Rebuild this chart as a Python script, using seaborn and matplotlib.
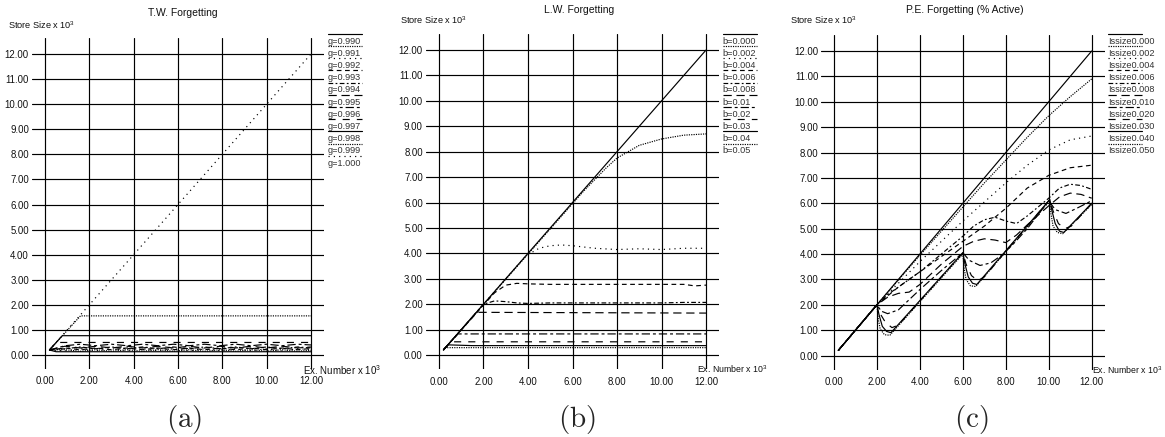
import numpy as np
import matplotlib
matplotlib.use("Agg")
import matplotlib.pyplot as plt
import seaborn as sns
from matplotlib.lines import Line2D
from matplotlib.legend_handler import HandlerLine2D

# ---------------- data ----------------
X_TICKS = [0, 2, 4, 6, 8, 10, 12]
Y_TICKS = [0, 1, 2, 3, 4, 5, 6, 7, 8, 9, 10, 11, 12]

TITLES = ["T.W. Forgetting", "L.W. Forgetting", "P.E. Forgetting (% Active)"]
TAGS = ["(a)", "(b)", "(c)"]
Y_LABEL = "Store Size x 10$^3$"
X_LABEL = "Ex. Number x 10$^3$"

TW_LABELS = ["g=0.990", "g=0.991", "g=0.992", "g=0.993", "g=0.994", "g=0.995",
             "g=0.996", "g=0.997", "g=0.998", "g=0.999", "g=1.000"]
LW_LABELS = ["b=0.000", "b=0.002", "b=0.004", "b=0.006", "b=0.008", "b=0.01",
             "b=0.02", "b=0.03", "b=0.04", "b=0.05"]
PE_LABELS = ["Issize0.000", "Issize0.002", "Issize0.004", "Issize0.006", "Issize0.008",
             "Issize0.010", "Issize0.020", "Issize0.030", "Issize0.040", "Issize0.050"]

X_ZZ = [0.2, 0.9, 1.6, 2.3, 3.0, 3.7, 4.4, 5.1, 5.8, 6.5, 7.2, 7.9, 8.6, 9.3, 10.0, 10.7, 11.4, 12.0]

TW_X = [
    [0.2, 0.5, 12.0],
    X_ZZ, X_ZZ, X_ZZ, X_ZZ, X_ZZ, X_ZZ,
    [0.2, 0.5, 12.0],
    [0.2, 0.78, 12.0],
    [0.2, 1.6, 12.0],
    [0.2, 12.0],
]
TW_Y = [
    [0.2, 0.13, 0.13],
    [0.2, 0.21, 0.15, 0.21, 0.15, 0.21, 0.15, 0.21, 0.15, 0.21, 0.15, 0.21, 0.15, 0.21, 0.15, 0.21, 0.15, 0.19],
    [0.2, 0.17, 0.25, 0.17, 0.25, 0.17, 0.25, 0.17, 0.25, 0.17, 0.25, 0.17, 0.25, 0.17, 0.25, 0.17, 0.25, 0.22],
    [0.2, 0.28, 0.21, 0.28, 0.21, 0.28, 0.21, 0.28, 0.21, 0.28, 0.21, 0.28, 0.21, 0.28, 0.21, 0.28, 0.21, 0.26],
    [0.2, 0.25, 0.32, 0.25, 0.32, 0.25, 0.32, 0.25, 0.32, 0.25, 0.32, 0.25, 0.32, 0.25, 0.32, 0.25, 0.32, 0.28],
    [0.2, 0.35, 0.28, 0.35, 0.28, 0.35, 0.28, 0.35, 0.28, 0.35, 0.28, 0.35, 0.28, 0.35, 0.28, 0.35, 0.28, 0.32],
    [0.2, 0.37, 0.43, 0.37, 0.43, 0.37, 0.43, 0.37, 0.43, 0.37, 0.43, 0.37, 0.43, 0.37, 0.43, 0.37, 0.43, 0.40],
    [0.2, 0.5, 0.5],
    [0.2, 0.77, 0.77],
    [0.2, 1.56, 1.56],
    [0.2, 12.0],
]

LW_X = [
    [0.2, 12.0],
    [0.2, 6.5, 7.0, 7.5, 8.0, 9.0, 10.0, 11.0, 12.0],
    [0.2, 3.9, 4.5, 5.0, 5.5, 6.0, 7.0, 8.0, 9.0, 10.0, 11.0, 12.0],
    [0.2, 2.5, 3.0, 3.5, 4.0, 5.0, 6.0, 7.0, 8.0, 9.0, 10.0, 11.0, 11.5, 12.0],
    [0.2, 2.0, 2.5, 3.0, 3.5, 4.0, 5.0, 6.0, 7.0, 8.0, 9.0, 10.0, 11.0, 12.0],
    [0.2, 1.7, 12.0],
    [0.2, 0.85, 12.0],
    [0.2, 0.55, 12.0],
    [0.2, 0.4, 1.5, 12.0],
    [0.2, 0.3, 12.0],
]
LW_Y = [
    [0.2, 12.0],
    [0.2, 6.45, 6.9, 7.35, 7.75, 8.25, 8.5, 8.65, 8.7],
    [0.2, 3.9, 4.2, 4.3, 4.33, 4.3, 4.2, 4.15, 4.18, 4.15, 4.2, 4.2],
    [0.2, 2.45, 2.75, 2.82, 2.8, 2.78, 2.78, 2.78, 2.78, 2.78, 2.78, 2.78, 2.72, 2.75],
    [0.2, 2.0, 2.13, 2.1, 2.05, 2.03, 2.05, 2.05, 2.05, 2.05, 2.05, 2.05, 2.07, 2.07],
    [0.2, 1.68, 1.65],
    [0.2, 0.83, 0.83],
    [0.2, 0.52, 0.52],
    [0.2, 0.4, 0.37, 0.37],
    [0.2, 0.29, 0.29],
]

PE_X = [
    [0.2, 12.0],
    [0.2, 2, 4, 6, 7, 8, 9, 10, 11, 12],
    [0.2, 2, 3, 4, 5, 6, 7, 8, 9, 10, 11, 12],
    [0.2, 2, 3, 4, 5, 6, 7, 8, 9, 10, 11, 12],
    [0.2, 2, 2.5, 3, 4, 5, 6, 6.5, 7, 7.5, 8, 8.5, 9, 10, 10.5, 11, 11.5, 12],
    [0.2, 2, 2.5, 3, 3.5, 4, 5, 6, 6.5, 7, 7.5, 8, 8.5, 9, 10, 10.5, 11, 11.5, 12],
    [0.2, 2, 2.2, 2.5, 3, 3.5, 4, 5, 6, 6.3, 6.8, 7.3, 7.8, 8.3, 9, 10, 10.3, 10.8, 11.3, 12],
    [0.2, 2, 2.15, 2.4, 2.7, 3, 6, 6.15, 6.4, 6.7, 7, 10.05, 10.2, 10.45, 10.75, 11.05, 12],
    [0.2, 2, 2.1, 2.25, 2.45, 2.65, 6, 6.1, 6.25, 6.45, 6.65, 10.05, 10.15, 10.3, 10.5, 10.7, 12],
    [0.2, 2, 2.05, 2.15, 2.35, 2.6, 6, 6.05, 6.15, 6.35, 6.6, 10.05, 10.1, 10.2, 10.4, 10.65, 12],
]
PE_Y = [
    [0.2, 12.0],
    [0.2, 2, 3.95, 5.85, 6.8, 7.7, 8.6, 9.45, 10.2, 10.9],
    [0.2, 2, 2.85, 3.7, 4.5, 5.3, 6.05, 6.8, 7.5, 8.1, 8.5, 8.65],
    [0.2, 2, 2.7, 3.3, 3.9, 4.5, 5.1, 5.8, 6.6, 7.1, 7.4, 7.5],
    [0.2, 2, 2.4, 2.7, 3.3, 4.0, 4.7, 5.1, 5.35, 5.45, 5.3, 5.2, 5.5, 6.2, 6.6, 6.75, 6.7, 6.55],
    [0.2, 2, 2.3, 2.45, 2.5, 2.8, 3.6, 4.3, 4.5, 4.6, 4.55, 4.45, 4.75, 5.15, 5.9, 6.25, 6.4, 6.35, 6.2],
    [0.2, 2, 1.75, 1.65, 1.8, 2.2, 2.6, 3.35, 4.05, 3.75, 3.55, 3.65, 3.95, 4.35, 5.0, 6.1, 5.75, 5.6, 5.8, 6.1],
    [0.2, 2, 1.65, 1.3, 1.1, 1.2, 4.05, 3.6, 3.15, 2.95, 3.1, 6.15, 5.7, 5.2, 5.0, 5.1, 6.0],
    [0.2, 2, 1.6, 1.15, 0.95, 0.9, 4.05, 3.6, 3.1, 2.85, 2.8, 6.15, 5.7, 5.2, 4.9, 4.85, 6.0],
    [0.2, 2, 1.5, 1.05, 0.82, 0.8, 4.0, 3.5, 3.0, 2.75, 2.72, 6.1, 5.6, 5.1, 4.85, 4.8, 5.95],
]

# ---------------- style ----------------
STYLES = ["-", (0, (1, 1)), (0, (1, 3.5)), (0, (4, 3)), (0, (4, 2, 1.5, 2)),
          (0, (7, 4)), (0, (7, 2.5, 2.5, 2.5)), (0, (6, 6)), "-", (0, (1, 1)), (0, (1, 3.5))]

sns.set_style("white")
plt.rcParams["font.family"] = ["Liberation Sans", "DejaVu Sans"]
plt.rcParams["mathtext.fontset"] = "custom"
plt.rcParams["mathtext.rm"] = "Liberation Sans"
plt.rcParams["mathtext.default"] = "regular"

W, H = 1165, 437
fig = plt.figure(figsize=(W / 100, H / 100), dpi=100)
fig.patch.set_facecolor("white")


def px_rect(l, t, r, b):
    return [l / W, 1 - b / H, (r - l) / W, (b - t) / H]


class OverlineHandler(HandlerLine2D):
    def create_artists(self, legend, orig_handle, xdescent, ydescent, width, height, fontsize, trans):
        arts = super().create_artists(legend, orig_handle, xdescent, ydescent, width, height, fontsize, trans)
        for a in arts:
            a.set_ydata(np.full_like(np.asarray(a.get_ydata(), float),
                                     (height - ydescent) / 2 + 0.72 * fontsize))
        return arts


PANELS = [
    dict(rect=(31.7, 37.7, 324.3, 368.8), xs=TW_X, ys=TW_Y, labels=TW_LABELS,
         title=(183, 13), ylab=(8, 25), xlab=(303, 370), xfs=7.0, leg=(328, 36.5), tag=(184, 420)),
    dict(rect=(425.6, 33.5, 719.4, 369.0), xs=LW_X, ys=LW_Y, labels=LW_LABELS,
         title=(579, 10), ylab=(400, 20), xlab=(697, 369), xfs=6.3, leg=(722.7, 36.5), tag=(577, 420)),
    dict(rect=(821.1, 34.5, 1104.6, 369.5), xs=PE_X, ys=PE_Y, labels=PE_LABELS,
         title=(965, 10), ylab=(790, 20), xlab=(1092, 370), xfs=6.3, leg=(1108, 36.5), tag=(971, 420)),
]

for k, P in enumerate(PANELS):
    ax = fig.add_axes(px_rect(*P["rect"]))
    handles = []
    for i, (xs, ys, lab) in enumerate(zip(P["xs"], P["ys"], P["labels"])):
        sns.lineplot(x=xs, y=ys, ax=ax, color="black", linewidth=0.85,
                     linestyle=STYLES[i], estimator=None, sort=False,
                     legend=False, label=lab)
        handles.append(ax.lines[-1])
    ax.set_xlim(-0.6, 12.6)
    ax.set_ylim(-0.55, 12.65)
    ax.set_xticks(X_TICKS)
    ax.set_yticks(Y_TICKS)
    ax.set_xticklabels([f"{v:.2f}" for v in X_TICKS])
    ax.set_yticklabels([f"{v:.2f}" for v in Y_TICKS])
    ax.set_xlabel("")
    ax.set_ylabel("")
    ax.grid(True, color="black", linewidth=0.85)
    ax.set_axisbelow(True)
    for s in ax.spines.values():
        s.set_visible(False)
    ax.tick_params(axis="both", length=0, labelsize=6.9, colors="#111111")
    ax.tick_params(axis="x", pad=5.5)
    ax.tick_params(axis="y", pad=2)
    ax.set_facecolor("white")

    fig.text(P["title"][0] / W, 1 - P["title"][1] / H, TITLES[k], ha="center",
             va="center", fontsize=7.5, color="#111111")
    fig.text(P["ylab"][0] / W, 1 - P["ylab"][1] / H, Y_LABEL, ha="left",
             va="center", fontsize=6.6, color="#111111")
    fig.text(P["xlab"][0] / W, 1 - P["xlab"][1] / H, X_LABEL, ha="left",
             va="center", fontsize=P["xfs"], color="#111111")
    fig.text(P["tag"][0] / W, 1 - P["tag"][1] / H, r"$\mathrm{" + TAGS[k] + "}$",
             math_fontfamily="cm", ha="center", va="center", fontsize=21)

    leg = ax.legend(handles=handles, labels=P["labels"], loc="upper left",
                    bbox_to_anchor=(P["leg"][0] / W, 1 - P["leg"][1] / H),
                    bbox_transform=fig.transFigure, frameon=False, fontsize=6.6,
                    handlelength=3.7, handletextpad=-3.7, labelspacing=0.35,
                    borderpad=0, borderaxespad=0,
                    handler_map={Line2D: OverlineHandler()})
    for t in leg.get_texts():
        t.set_color("#333333")

fig.savefig("out.png", dpi=100, facecolor="white")
